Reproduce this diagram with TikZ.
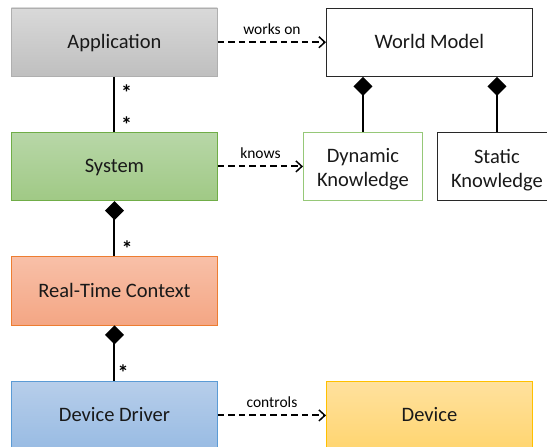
\documentclass[tikz,border=0pt]{standalone}
\usepackage{fontspec}
\setmainfont{Carlito}
\usetikzlibrary{arrows.meta}

\definecolor{grayTop}{RGB}{217,217,217}
\definecolor{grayBot}{RGB}{191,191,191}
\definecolor{grayLine}{RGB}{175,175,175}
\definecolor{greenTop}{RGB}{184,215,168}
\definecolor{greenBot}{RGB}{160,201,133}
\definecolor{greenLine}{RGB}{112,173,71}
\definecolor{greenLight}{RGB}{150,200,120}
\definecolor{orangeTop}{RGB}{248,192,168}
\definecolor{orangeBot}{RGB}{244,166,132}
\definecolor{orangeLine}{RGB}{237,125,49}
\definecolor{blueTop}{RGB}{183,206,234}
\definecolor{blueBot}{RGB}{152,187,227}
\definecolor{blueLine}{RGB}{91,155,213}
\definecolor{yellowTop}{RGB}{255,225,158}
\definecolor{yellowBot}{RGB}{255,213,112}
\definecolor{yellowLine}{RGB}{255,192,0}
\definecolor{darkLine}{RGB}{40,40,40}

\tikzset{
  box/.style={rectangle, anchor=north west, inner sep=0pt,
    minimum width=206pt, minimum height=68.5pt, line width=0.9pt,
    text height=17pt, text depth=3.9pt,
    font=\fontsize{20.5}{24}\selectfont, text=black!90},
  smallbox/.style={rectangle, anchor=north west, inner sep=0pt,
    minimum width=119pt, minimum height=68.5pt, line width=0.9pt},
  boxtext/.style={inner sep=0pt, align=center, text=black!90,
    font=\fontsize{20.5}{24}\selectfont},
  edgelabel/.style={font=\fontsize{15.5}{17}\selectfont, inner sep=0pt},
  mult/.style={font=\fontsize{22}{22}\selectfont\bfseries, inner sep=0pt},
  depends/.style={draw=black, line width=1.9pt, dash pattern=on 6.5pt off 4pt,
    -{Straight Barb[length=6pt,width=11pt,line width=1.5pt]}},
  composed/.style={draw=black, line width=2pt,
    {Diamond[length=19pt,width=19pt]}-},
  assoc/.style={draw=black, line width=2pt},
}

\begin{document}
\begin{tikzpicture}[x=1pt,y=-1pt]
\useasboundingbox (0,0) rectangle (547,447);
\clip (0,0) rectangle (547,447);

% left column
\node[box, top color=grayTop, bottom color=grayBot, draw=grayLine]
  (app) at (11,7.5) {Application};
\node[box, top color=greenTop, bottom color=greenBot, draw=greenLine]
  (sys) at (11,131.7) {System};
\node[box, top color=orangeTop, bottom color=orangeBot, draw=orangeLine]
  (rtc) at (11,256) {Real-Time Context};
\node[box, top color=blueTop, bottom color=blueBot, draw=blueLine]
  (drv) at (11,380.7) {Device Driver};

% right column
\node[box, fill=white, draw=darkLine] (wm) at (326,7.5) {World Model};
\node[smallbox, fill=white, draw=greenLight] (dyn) at (303,131.7) {};
\node[boxtext] (dyntext) at ([yshift=-3.3pt]dyn.center) {Dynamic\\Knowledge};
\node[smallbox, fill=white, draw=darkLine] (sta) at (437,131.7) {};
\node[boxtext] (statext) at ([yshift=-3.3pt]sta.center) {Static\\Knowledge};
\node[box, top color=yellowTop, bottom color=yellowBot, draw=yellowLine]
  (dev) at (326,380.7) {Device};

% dependencies
\draw[depends] (app.east) -- (wm.west)
  node[edgelabel, midway, above=7pt] (lworks) {works on};
\draw[depends] (sys.east) -- (dyn.west)
  node[edgelabel, midway, above=7pt] (lknows) {knows};
\draw[depends] (drv.east) -- (dev.west)
  node[edgelabel, midway, above=7pt] (lctrl) {controls};

% associations and compositions
\draw[assoc] (app.south) -- (sys.north);
\draw[composed] (sys.south) -- (rtc.north);
\draw[composed] (rtc.south) -- (drv.north);
\draw[composed] (wm.south -| dyn.north) -- (dyn.north);
\draw[composed] (wm.south -| sta.north) -- (sta.north);

% multiplicities
\node[mult] (m1) at (126.5,93) {*};
\node[mult] (m2) at (126.5,125) {*};
\node[mult] (m3) at (127,249) {*};
\node[mult] (m4) at (123,372.5) {*};
\end{tikzpicture}
\end{document}
